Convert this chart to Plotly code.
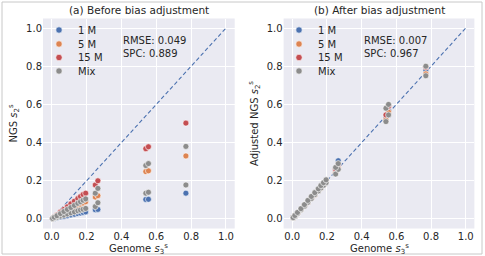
import plotly.graph_objects as go

series = ["1 M", "5 M", "15 M", "Mix"]
colors = ["#4C72B0", "#DD8452", "#C44E52", "#8C8C8C"]

genome = [0.005, 0.015, 0.03, 0.05, 0.07, 0.09, 0.11, 0.13, 0.15, 0.165, 0.18, 0.195, 0.25, 0.265, 0.54, 0.555, 0.77]

# (a) before adjustment
before_1m = [0.001, 0.003, 0.006, 0.01, 0.013, 0.017, 0.021, 0.025, 0.028, 0.031, 0.034, 0.037, 0.048, 0.05, 0.102, 0.103, 0.135]
before_5m = [0.003, 0.007, 0.014, 0.023, 0.032, 0.041, 0.05, 0.06, 0.069, 0.076, 0.083, 0.09, 0.115, 0.122, 0.248, 0.252, 0.33]
before_15m = [0.004, 0.011, 0.021, 0.036, 0.05, 0.064, 0.079, 0.093, 0.107, 0.118, 0.128, 0.135, 0.178, 0.2, 0.368, 0.378, 0.502]
before_mix_lo = [0.002, 0.005, 0.009, 0.015, 0.02, 0.026, 0.032, 0.037, 0.043, 0.047, 0.051, 0.055, 0.065, 0.085, 0.135, 0.14, 0.178]
before_mix_hi = [0.003, 0.009, 0.017, 0.028, 0.039, 0.05, 0.06, 0.071, 0.082, 0.09, 0.098, 0.105, 0.135, 0.16, 0.28, 0.29, 0.38]

# (b) after adjustment
after_1m = [0.006, 0.016, 0.032, 0.052, 0.072, 0.094, 0.112, 0.134, 0.155, 0.17, 0.186, 0.2, 0.255, 0.305, 0.53, 0.57, 0.78]
after_5m = [0.005, 0.014, 0.029, 0.049, 0.069, 0.088, 0.108, 0.127, 0.148, 0.162, 0.178, 0.192, 0.245, 0.27, 0.52, 0.56, 0.76]
after_15m = [0.006, 0.017, 0.031, 0.051, 0.071, 0.091, 0.113, 0.131, 0.152, 0.168, 0.183, 0.199, 0.26, 0.285, 0.545, 0.59, 0.795]
after_mix_lo = [0.005, 0.013, 0.028, 0.048, 0.067, 0.087, 0.107, 0.128, 0.147, 0.162, 0.176, 0.19, 0.235, 0.26, 0.51, 0.545, 0.75]
after_mix_hi = [0.007, 0.018, 0.034, 0.054, 0.075, 0.097, 0.118, 0.138, 0.158, 0.175, 0.19, 0.205, 0.27, 0.29, 0.58, 0.6, 0.8]

titles = ["(a) Before bias adjustment", "(b) After bias adjustment"]
ytitles = ["NGS <i>s</i><sub>2</sub><sup>s</sup>", "Adjusted NGS <i>s</i><sub>2</sub><sup>s</sup>"]
xtitle = "Genome <i>s</i><sub>3</sub><sup>s</sup>"
stats = [("RMSE: 0.049", "SPC: 0.889"), ("RMSE: 0.007", "SPC: 0.967")]
ticks = [0.0, 0.2, 0.4, 0.6, 0.8, 1.0]
tick_text = ["0.0", "0.2", "0.4", "0.6", "0.8", "1.0"]

FONT = "DejaVu Sans"
TXT = "#262626"
W, H = 485, 256

fig = go.Figure()

panels = [
    [before_1m, before_5m, before_15m, (before_mix_lo, before_mix_hi)],
    [after_1m, after_5m, after_15m, (after_mix_lo, after_mix_hi)],
]

for p, data in enumerate(panels):
    xa = "x" if p == 0 else "x2"
    ya = "y" if p == 0 else "y2"
    fig.add_trace(go.Scatter(x=[0, 1], y=[0, 1], mode="lines", xaxis=xa, yaxis=ya,
                             line=dict(color="#4C72B0", width=1.1, dash="4px,2.5px"),
                             showlegend=False, hoverinfo="skip"))
    for i, name in enumerate(series):
        vals = data[i]
        if isinstance(vals, tuple):
            xs = genome + genome
            ys = list(vals[0]) + list(vals[1])
        else:
            xs = genome
            ys = vals
        fig.add_trace(go.Scatter(x=xs, y=ys, mode="markers", name=name, xaxis=xa, yaxis=ya,
                                 showlegend=False,
                                 marker=dict(color=colors[i], size=6,
                                             line=dict(color="white", width=0.6))))

axis_common = dict(range=[-0.05, 1.05], tickvals=ticks, ticktext=tick_text,
                   showgrid=True, gridcolor="white", gridwidth=1, zeroline=False,
                   showline=False, ticks="", tickfont=dict(family=FONT, size=10, color=TXT))

dom_x1 = [43 / W, 234.7 / W]
dom_x2 = [283.6 / W, 474.4 / W]
dom_y = [1 - 228.5 / H, 1 - 18.5 / H]
fig.update_layout(
    width=W, height=H,
    margin=dict(l=0, r=0, t=0, b=0),
    paper_bgcolor="white", plot_bgcolor="#EAEAF2",
    font=dict(family=FONT, size=10, color=TXT),
    showlegend=False,
    xaxis=dict(domain=dom_x1, anchor="y", **axis_common),
    yaxis=dict(domain=dom_y, anchor="x",
               title=dict(text=ytitles[0], font=dict(size=10), standoff=6), **axis_common),
    xaxis2=dict(domain=dom_x2, anchor="y2", **axis_common),
    yaxis2=dict(domain=dom_y, anchor="x2",
                title=dict(text=ytitles[1], font=dict(size=10), standoff=6), **axis_common),
)

annotations = []
shapes = []
legend_ys = [30, 44, 57.5, 71]
for p in range(2):
    xr = "x" if p == 0 else "x2"
    yr = "y" if p == 0 else "y2"
    annotations.append(dict(text=stats[p][0] + "<br>" + stats[p][1], x=0.4, y=0.975, xref=xr, yref=yr,
                            xanchor="left", yanchor="top", align="left", showarrow=False,
                            font=dict(size=10, color=TXT, family=FONT)))
    dom = dom_x1 if p == 0 else dom_x2
    annotations.append(dict(text=titles[p], x=(dom[0] + dom[1]) / 2, y=1 - 10 / H,
                            xref="paper", yref="paper", xanchor="center", yanchor="middle",
                            showarrow=False, font=dict(size=10.5, color=TXT, family=FONT)))
    annotations.append(dict(text=xtitle, x=(dom[0] + dom[1]) / 2, y=1 - 249 / H,
                            xref="paper", yref="paper", xanchor="center", yanchor="middle",
                            showarrow=False, font=dict(size=10, color=TXT, family=FONT)))
    # manual legend
    mx = 59 if p == 0 else 299
    tx = 76 if p == 0 else 316
    for i, name in enumerate(series):
        cy = legend_ys[i]
        r = 3.2
        shapes.append(dict(type="circle", xref="paper", yref="paper",
                           x0=(mx - r) / W, x1=(mx + r) / W, y0=1 - (cy + r) / H, y1=1 - (cy - r) / H,
                           fillcolor=colors[i], line=dict(color="white", width=0.6)))
        annotations.append(dict(text=name, x=tx / W, y=1 - cy / H, xref="paper", yref="paper",
                                xanchor="left", yanchor="middle", showarrow=False,
                                font=dict(size=10, color=TXT, family=FONT)))

shapes.append(dict(type="rect", xref="paper", yref="paper", x0=2 / W, x1=482 / W, y0=2 / H, y1=254 / H,
                   line=dict(color="#C8C8C8", width=1), fillcolor="rgba(0,0,0,0)", layer="below"))
fig.update_layout(annotations=annotations, shapes=shapes)

fig.write_html("out.html")
